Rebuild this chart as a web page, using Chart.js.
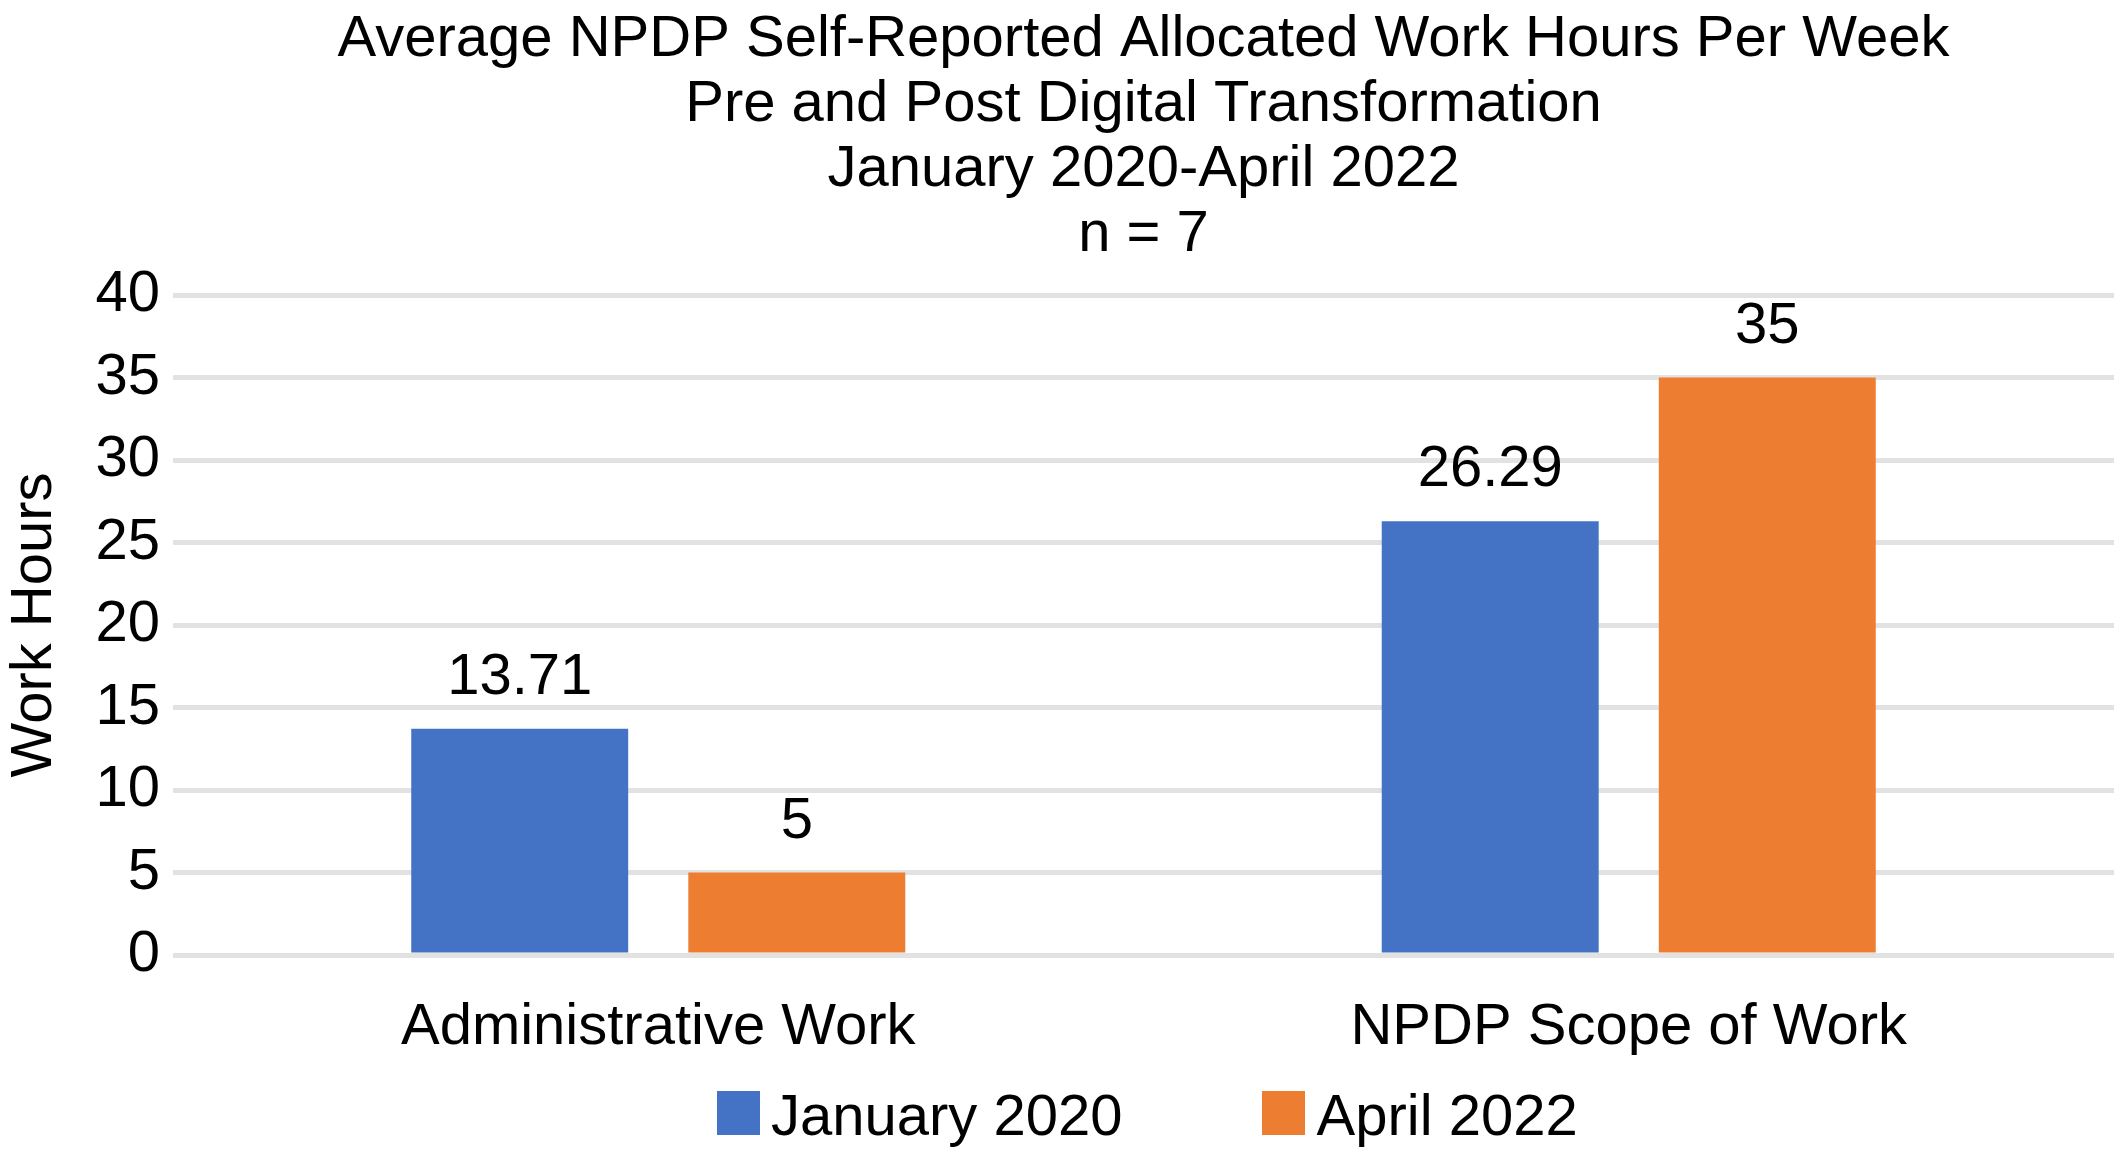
<!DOCTYPE html>
<html>
<head>
<meta charset="utf-8">
<title>Average NPDP Self-Reported Allocated Work Hours Per Week</title>
<script src="https://cdn.jsdelivr.net/npm/chart.js@4.4.1/dist/chart.umd.min.js"></script>
<style>
  body { margin: 0; background: #fff; }
  #wrap { position: relative; width: 2125px; height: 1157px; }
  #legend {
    position: absolute; left: 717px; top: 1086px;
    font: 58px "Liberation Sans", Arial, sans-serif; line-height: 58px;
    white-space: nowrap; color: #000;
  }
  .item { display: inline-block; }
  .item + .item { margin-left: 140px; }
  .swatch { display: inline-block; width: 43px; height: 44px; margin-right: 11px; }
</style>
</head>
<body>
<div id="wrap">
  <canvas id="myChart"></canvas>
  <div id="legend"></div>
</div>
<script>
const categories = ['Administrative Work', 'NPDP Scope of Work'];
const seriesNames = ['January 2020', 'April 2022'];
const jan2020 = [13.71, 26.29];
const apr2022 = [5, 35];
const seriesColors = ['#4472C4', '#ED7D31'];
const yMax = 40;
const yStep = 5;
const titleLines = [
    'Average NPDP Self-Reported Allocated Work Hours Per Week',
    'Pre and Post Digital Transformation',
    'January 2020-April 2022',
    'n = 7'
];

const FONT = '"Liberation Sans", Arial, sans-serif';
Chart.defaults.font.family = FONT;
Chart.defaults.font.size = 58;
Chart.defaults.color = '#000';

// value labels above each bar
const valueLabels = {
    id: 'valueLabels',
    afterDatasetsDraw(chart) {
        const ctx = chart.ctx;
        ctx.save();
        ctx.font = '58px ' + FONT;
        ctx.fillStyle = '#000';
        ctx.textAlign = 'center';
        ctx.textBaseline = 'middle';
        chart.data.datasets.forEach((ds, i) => {
            chart.getDatasetMeta(i).data.forEach((bar, j) => {
                ctx.fillText(String(ds.data[j]), bar.x, bar.y - 51);
            });
        });
        ctx.restore();
    }
};

const ctx = document.getElementById('myChart');

new Chart(ctx, {
    type: 'bar',
    data: {
        labels: categories,
        datasets: [
            { label: seriesNames[0], data: jan2020, backgroundColor: seriesColors[0] },
            { label: seriesNames[1], data: apr2022, backgroundColor: seriesColors[1] }
        ]
    },
    options: {
        responsive: true,
        maintainAspectRatio: false,
        animation: false,
        categoryPercentage: 0.571,
        barPercentage: 0.783,
        layout: { padding: { left: 0, right: 11, top: 0, bottom: 102 } },
        plugins: {
            legend: { display: false },
            tooltip: { enabled: false },
            title: {
                display: true,
                fullSize: false,
                text: titleLines,
                color: '#000',
                font: { size: 58, weight: 'normal', lineHeight: 1.1207 },
                padding: { top: 7, bottom: 28 }
            }
        },
        scales: {
            x: {
                grid: { display: false },
                border: { display: false },
                ticks: { padding: 30, font: { size: 58 } },
                afterFit: (scale) => { scale.height = 100; }
            },
            y: {
                min: 0,
                max: yMax,
                grid: { color: '#e2e2e2', lineWidth: 5, drawTicks: false },
                border: { display: false },
                ticks: { stepSize: yStep, padding: 13, font: { size: 58 } },
                title: {
                    display: true,
                    text: 'Work Hours',
                    font: { size: 58 },
                    padding: { top: 0, bottom: 0 }
                },
                afterFit: (scale) => { scale.width = 173; }
            }
        }
    },
    plugins: [valueLabels]
});

// legend
const legend = document.getElementById('legend');
seriesNames.forEach((name, i) => {
    const item = document.createElement('span');
    item.className = 'item';
    const sw = document.createElement('span');
    sw.className = 'swatch';
    sw.style.background = seriesColors[i];
    item.appendChild(sw);
    item.appendChild(document.createTextNode(name));
    legend.appendChild(item);
});
</script>
</body>
</html>
